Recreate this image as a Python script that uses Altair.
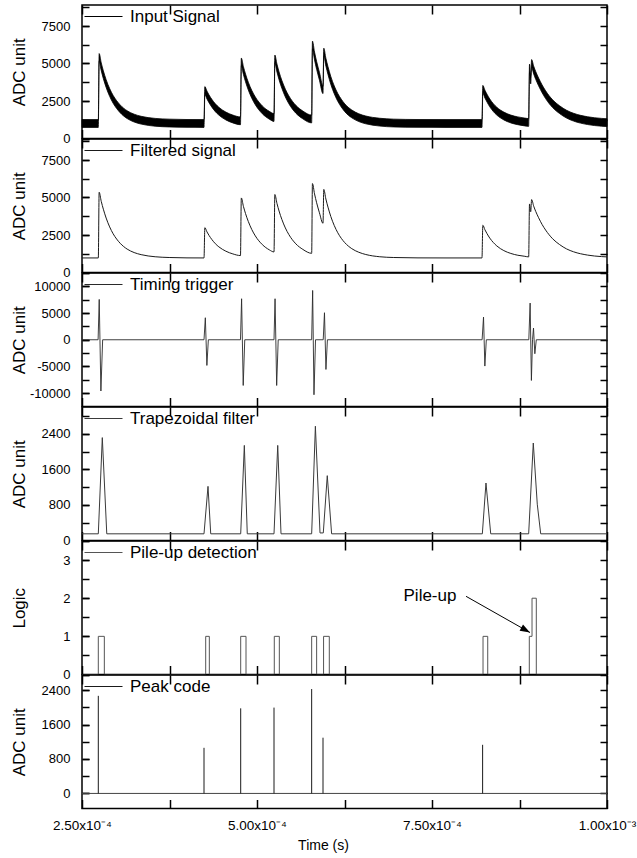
import altair as alt
import pandas as pd

FONT = "Liberation Sans"
PANEL_W = 525
PANEL_H = 133.5

# ---------------- axis values ----------------
x_domain = [2.5e-4, 1.0e-3]
x_tick_values = [2.5e-4, 3.75e-4, 5.0e-4, 6.25e-4, 7.5e-4, 8.75e-4, 1.0e-3]

series_names = ["Input Signal", "Filtered signal", "Timing trigger",
                "Trapezoidal filter", "Pile-up detection", "Peak code"]
y_titles = ["ADC unit", "ADC unit", "ADC unit", "ADC unit", "Logic", "ADC unit"]

y_domains = [[0, 8900], [0, 8900], [-12500, 12500], [0, 3000], [0, 3.5], [-350, 2750]]
y_ticks = [
    [0, 1250, 2500, 3750, 5000, 6250, 7500, 8750],
    [0, 1250, 2500, 3750, 5000, 6250, 7500, 8750],
    [-10000, -7500, -5000, -2500, 0, 2500, 5000, 7500, 10000],
    [0, 400, 800, 1200, 1600, 2000, 2400, 2800],
    [0, 0.5, 1, 1.5, 2, 2.5, 3],
    [0, 400, 800, 1200, 1600, 2000, 2400],
]
y_labels = [
    [0, 2500, 5000, 7500],
    [0, 2500, 5000, 7500],
    [-10000, -5000, 0, 5000, 10000],
    [0, 800, 1600, 2400],
    [0, 1, 2, 3],
    [0, 800, 1600, 2400],
]

# ---------------- signals (time in microseconds) ----------------
sig_t_us = [250, 273.3, 274.5, 277.5, 280.5, 284.5, 289.5, 294.5, 299.5, 304.5, 314.5, 324.5, 334.5, 354.5, 374.5, 400, 424.3,
            425.5, 428.5, 431.5, 435.5, 440.5, 445.5, 455.5, 465.5, 476.4,
            477.6, 480.6, 483.6, 487.6, 492.6, 497.6, 507.6, 517.6, 524.3,
            525.5, 528.5, 531.5, 535.5, 540.5, 545.5, 555.5, 565.5, 578.1,
            579.2, 582.2, 585.2, 589.2, 594.3,
            595.4, 598.4, 601.4, 605.4, 610.4, 615.4, 620.4, 625.4, 635.4, 645.4, 655.4, 675.4, 695.4, 730, 770, 800, 821.4,
            822.6, 825.6, 828.6, 832.6, 837.6, 842.6, 852.6, 862.6, 872.6, 882.6, 888.1,
            889.3, 891.0, 892.3, 895.3, 898.3, 902.3, 907.3, 912.3, 922.3, 932.3, 942.3, 952.3, 972.3, 992.3, 1000]

input_hi = [1260, 1260, 5660, 5040, 4510, 3920, 3330, 2870, 2520, 2240, 1850, 1620, 1480, 1340, 1290, 1265, 1260,
            3460, 3160, 2900, 2610, 2310, 2080, 1760, 1560, 1440,
            5360, 4790, 4300, 3750, 3200, 2770, 2170, 1810, 1660,
            5560, 4960, 4440, 3870, 3290, 2840, 2210, 1830, 1560,
            6490, 5760, 5130, 4410, 3510,
            6020, 5350, 4790, 4140, 3500, 3000, 2620, 2310, 1900, 1650, 1500, 1350, 1290, 1265, 1260, 1260, 1260,
            3540, 3220, 2950, 2630, 2320, 2080, 1760, 1560, 1440, 1360, 1330,
            4960, 4160, 5260, 4820, 4450, 4030, 3570, 3180, 2580, 2180, 1880, 1680, 1450, 1340, 1320]

input_lo = [740, 740, 5140, 4520, 3990, 3400, 2810, 2350, 2000, 1720, 1330, 1100, 960, 820, 770, 745, 740,
            2940, 2640, 2380, 2090, 1790, 1560, 1240, 1040, 920,
            4840, 4270, 3780, 3230, 2680, 2250, 1650, 1290, 1140,
            5040, 4440, 3920, 3350, 2770, 2320, 1690, 1310, 1040,
            5970, 5240, 4610, 3890, 2990,
            5500, 4830, 4270, 3620, 2980, 2480, 2100, 1790, 1380, 1130, 980, 830, 770, 745, 740, 740, 740,
            3020, 2700, 2430, 2110, 1800, 1560, 1240, 1040, 920, 840, 810,
            4440, 3640, 4740, 4300, 3930, 3510, 3050, 2660, 2060, 1660, 1360, 1160, 930, 820, 800]

filtered = [970, 970, 5350, 4740, 4220, 3630, 3040, 2580, 2230, 1950, 1560, 1330, 1190, 1050, 1000, 975, 970,
            2990, 2710, 2470, 2200, 1920, 1710, 1420, 1240, 1130,
            4970, 4410, 3930, 3400, 2860, 2440, 1860, 1510, 1370,
            5200, 4610, 4100, 3540, 2970, 2530, 1910, 1540, 1280,
            5930, 5240, 4650, 3980, 3280,
            5540, 4900, 4360, 3740, 3130, 2650, 2280, 1990, 1590, 1350, 1200, 1050, 1000, 975, 970, 970, 970,
            3150, 2850, 2590, 2290, 2000, 1770, 1460, 1270, 1150, 1080, 1040,
            4570, 4050, 4860, 4420, 4060, 3650, 3200, 2830, 2250, 1860, 1570, 1380, 1160, 1060, 1040]

trig_t_us = [250, 273.0, 274.6, 277.0, 279.5,
             424.3, 426.2, 428.4, 430.5,
             476.4, 478.0, 480.3, 482.5,
             524.3, 525.8, 528.1, 530.3,
             578.1, 579.5, 581.4, 583.6,
             594.6, 596.4, 598.5, 600.6,
             821.6, 823.6, 825.5, 827.6,
             888.3, 890.2, 892.0, 893.6, 895.0, 896.9, 899.0,
             1000]
trig_v = [0, 0, 7550, -9600, 0,
          0, 4120, -4810, 0,
          0, 7680, -8560, 0,
          0, 7680, -8560, 0,
          0, 9230, -10300, 0,
          0, 5060, -5560, 0,
          0, 4250, -4930, 0,
          0, 6870, -7620, 0, 2190, -2620, 0,
          0]

trap_t_us = [250, 273.3, 279.0, 285.4, 424.3, 430.0, 433.9, 476.7, 481.9, 486.1, 524.3, 529.6, 534.3,
             578.1, 583.4, 590.0, 594.7, 600.4, 606.6, 821.9, 827.1, 833.9, 888.1, 894.7, 900.4, 905.3, 1000]
trap_v = [150, 150, 2312, 150, 150, 1217, 150, 150, 2137, 150, 150, 2137, 150,
          150, 2568, 170, 170, 1457, 150, 150, 1292, 150, 150, 2191, 816, 150, 150]

pile_t_us = [250, 273.3, 281.9, 426.7, 431.9, 476.7, 484.3, 524.7, 531.9, 578.1, 585.2,
             595.1, 603.3, 822.9, 829.6, 889.0, 892.9, 899.0, 1000]
pile_v = [0, 1, 0, 1, 0, 1, 0, 1, 0, 1, 0, 1, 0, 1, 0, 1, 2, 0, 0]

peak_t_us = [273.3, 424.3, 476.7, 524.3, 578.1, 594.3, 822.3]
peak_h = [2266, 1059, 1976, 1993, 2424, 1294, 1129]
peak_base = [0]

# annotation "Pile-up" with arrow
ann_t_us = [747.1]
ann_v = [2.06]
ann_label = ["Pile-up"]
arrow_t_us = [798.6, 890.0]
arrow_v = [2.05, 1.10]
arrow_angle = 29.5


def s(lst):
    return [v * 1e-6 for v in lst]


X_LABEL_EXPR = ("round(datum.value * 8000) % 2 == 0 ? "
                "(datum.value < 0.0009 ? format(datum.value * 10000, '.2f') + 'x10\u207b\u2074' "
                ": format(datum.value * 1000, '.2f') + 'x10\u207b\u00b3') : ''")

TICK = dict(tickWidth=1.5, tickColor="black", domain=False, grid=False, minExtent=0)


def ax_bottom(show):
    kw = dict(orient="bottom", values=x_tick_values, offset=-9, tickSize=9, **TICK)
    if show:
        kw.update(labels=True, labelExpr=X_LABEL_EXPR, labelFont=FONT, labelFontSize=13.5,
                  labelColor="black", labelPadding=10, labelFlush=False, labelOverlap=False,
                  title="Time (s)", titleFont=FONT, titleFontSize=14, titleFontWeight="normal",
                  titleColor="black", titleX=241, titlePadding=6)
    else:
        kw.update(labels=False, title=None)
    return alt.Axis(**kw)


def ax_top():
    return alt.Axis(orient="top", values=x_tick_values, offset=-9, tickSize=9,
                    labels=False, title=None, **TICK)


def ax_left_ticks(ticks):
    return alt.Axis(orient="left", values=ticks, offset=-7, tickSize=7,
                    labels=False, title=None, **TICK)


def ax_left_labels(vals, title):
    return alt.Axis(orient="left", values=vals, offset=-7, tickSize=7,
                    labelExpr="'' + datum.value",
                    labelFont=FONT, labelFontSize=13, labelColor="black", labelPadding=12,
                    labelOverlap=False, labelFlush=False,
                    title=title, titleFont=FONT, titleFontSize=17, titleFontWeight="normal",
                    titleColor="black", titleAngle=270, titleX=-70, titleY=PANEL_H / 2,
                    titleAlign="center", titleBaseline="middle", **TICK)


def ax_right(ticks):
    return alt.Axis(orient="right", values=ticks, offset=-7, tickSize=7,
                    labels=False, title=None, **TICK)


def legend():
    return alt.Legend(orient="none", legendX=2, legendY=3, title=None, symbolType="stroke",
                      symbolSize=1444, symbolStrokeWidth=1, symbolStrokeColor="black",
                      clipHeight=17,
                      labelFont=FONT, labelFontSize=17, labelColor="black", labelOffset=7, padding=0)


def color_enc(name, col="black"):
    return alt.Color("name:N", scale=alt.Scale(domain=[name], range=[col]), legend=legend())


def xs():
    return alt.Scale(domain=x_domain, nice=False, zero=False)


def ys(i):
    return alt.Scale(domain=y_domains[i], nice=False, zero=False)


def panel(i, data_layers, df_axes, yfield, show_x=False):
    a1 = alt.Chart(df_axes).mark_point(opacity=0).encode(
        x=alt.X("t:Q", scale=xs(), axis=ax_bottom(show_x)),
        y=alt.Y(f"{yfield}:Q", scale=ys(i), axis=ax_left_ticks(y_ticks[i])),
    )
    a2 = alt.Chart(df_axes).mark_point(opacity=0).encode(
        x=alt.X("t:Q", scale=xs(), axis=ax_top()),
        y=alt.Y(f"{yfield}:Q", scale=ys(i), axis=ax_right(y_ticks[i])),
    )
    a3 = alt.Chart(df_axes).mark_point(opacity=0).encode(
        x=alt.X("t:Q", scale=xs(), axis=None),
        y=alt.Y(f"{yfield}:Q", scale=ys(i), axis=ax_left_labels(y_labels[i], y_titles[i])),
    )
    return alt.layer(*data_layers, a1, a2, a3).resolve_axis(
        x="independent", y="independent").properties(width=PANEL_W, height=PANEL_H)


# ---------- panel 1: input signal ----------
df_in = pd.DataFrame({"t": s(sig_t_us), "hi": input_hi, "lo": input_lo, "name": series_names[0]})
p1_main = alt.Chart(df_in).mark_area(stroke="black", strokeWidth=0.8, interpolate="monotone").encode(
    x=alt.X("t:Q", scale=xs(), axis=None),
    y=alt.Y("hi:Q", scale=ys(0), axis=None),
    y2=alt.Y2("lo"),
    color=color_enc(series_names[0]),
)
p1 = panel(0, [p1_main], df_in, "hi")

# ---------- panel 2: filtered ----------
df_f = pd.DataFrame({"t": s(sig_t_us), "v": filtered, "name": series_names[1]})
p2_main = alt.Chart(df_f).mark_line(strokeWidth=1, interpolate="monotone").encode(
    x=alt.X("t:Q", scale=xs(), axis=None),
    y=alt.Y("v:Q", scale=ys(1), axis=None),
    color=color_enc(series_names[1], "#1a1a1a"),
)
p2 = panel(1, [p2_main], df_f, "v")

# ---------- panel 3: timing trigger ----------
df_tr = pd.DataFrame({"t": s(trig_t_us), "v": trig_v, "name": series_names[2]})
p3_main = alt.Chart(df_tr).mark_line(strokeWidth=0.9).encode(
    x=alt.X("t:Q", scale=xs(), axis=None),
    y=alt.Y("v:Q", scale=ys(2), axis=None),
    color=color_enc(series_names[2], "#2a2a2a"),
)
p3 = panel(2, [p3_main], df_tr, "v")

# ---------- panel 4: trapezoidal ----------
df_tp = pd.DataFrame({"t": s(trap_t_us), "v": trap_v, "name": series_names[3]})
p4_main = alt.Chart(df_tp).mark_line(strokeWidth=1).encode(
    x=alt.X("t:Q", scale=xs(), axis=None),
    y=alt.Y("v:Q", scale=ys(3), axis=None),
    color=color_enc(series_names[3], "#3a3a3a"),
)
p4 = panel(3, [p4_main], df_tp, "v")

# ---------- panel 5: pile-up ----------
df_pu = pd.DataFrame({"t": s(pile_t_us), "v": pile_v, "name": series_names[4]})
p5_main = alt.Chart(df_pu).mark_line(strokeWidth=1, interpolate="step-after").encode(
    x=alt.X("t:Q", scale=xs(), axis=None),
    y=alt.Y("v:Q", scale=ys(4), axis=None),
    color=color_enc(series_names[4], "#555555"),
)
df_ann = pd.DataFrame({"t": s(ann_t_us), "v": ann_v, "label": ann_label})
p5_text = alt.Chart(df_ann).mark_text(font=FONT, fontSize=17, align="center", baseline="middle",
                                      color="black").encode(
    x=alt.X("t:Q", scale=xs(), axis=None),
    y=alt.Y("v:Q", scale=ys(4), axis=None),
    text="label:N",
)
df_arrow = pd.DataFrame({"t1": s(arrow_t_us[:1]), "v1": arrow_v[:1],
                         "t2": s(arrow_t_us[1:]), "v2": arrow_v[1:]})
p5_rule = alt.Chart(df_arrow).mark_rule(color="black", strokeWidth=1).encode(
    x=alt.X("t1:Q", scale=xs(), axis=None),
    x2=alt.X2("t2"),
    y=alt.Y("v1:Q", scale=ys(4), axis=None),
    y2=alt.Y2("v2"),
)
p5_head = alt.Chart(df_arrow).mark_point(shape="M0,0L-2,-0.7L-2,0.7Z", filled=True, size=100,
                                         angle=arrow_angle, color="black", opacity=1).encode(
    x=alt.X("t2:Q", scale=xs(), axis=None),
    y=alt.Y("v2:Q", scale=ys(4), axis=None),
)
p5 = panel(4, [p5_main, p5_text, p5_rule, p5_head], df_pu, "v")

# ---------- panel 6: peak code ----------
df_pk = pd.DataFrame({"t": s(peak_t_us), "v": peak_h, "name": series_names[5]})
df_base = pd.DataFrame({"v": peak_base})
p6_base = alt.Chart(df_base).mark_rule(color="#444444", strokeWidth=1).encode(
    y=alt.Y("v:Q", scale=ys(5), axis=None),
)
p6_main = alt.Chart(df_pk).mark_rule(strokeWidth=1).encode(
    x=alt.X("t:Q", scale=xs(), axis=None),
    y=alt.Y("v:Q", scale=ys(5), axis=None),
    y2=alt.Y2Datum(0),
    color=color_enc(series_names[5], "#1a1a1a"),
)
p6 = panel(5, [p6_base, p6_main], df_pk, "v", show_x=True)

chart = alt.vconcat(p1, p2, p3, p4, p5, p6, spacing=0, bounds="flush").resolve_scale(
    color="independent"
).properties(
    padding={"left": 9, "top": 3, "right": 0, "bottom": 0},
    background="white",
).configure(font=FONT).configure_view(stroke="black", strokeWidth=1.5)

chart.save("out.html", embed_options={"renderer": "svg", "actions": False})
